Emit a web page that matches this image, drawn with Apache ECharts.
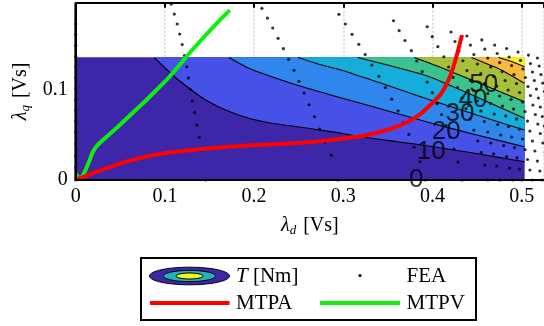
<!DOCTYPE html>
<html><head><meta charset="utf-8">
<script src="https://cdn.jsdelivr.net/npm/echarts/dist/echarts.min.js"></script>
<style>html,body{margin:0;padding:0;background:#fff}#c{width:544px;height:326px}</style>
</head><body><div id="c"></div>
<script>
// ---------- data (units: Vs, Nm) ----------
const xTickValues = [0, 0.1, 0.2, 0.3, 0.4, 0.5];
const yTickValues = [0, 0.1];
const xMax = 0.525;
const yMax = 0.1955;
const fillMaxD = 0.503;     // extent of the torque map
const fillMaxQ = 0.135;
const bandLevels = [0, 10, 20, 30, 40, 50, 60, 70];
const contour10 = [[0.0882,0.135],[0.1086,0.1158],[0.1271,0.1011],[0.1457,0.0882],[0.1680,0.0772],[0.1939,0.0680],[0.2198,0.0625],[0.2606,0.0570],[0.2862,0.0533],[0.3237,0.0471],[0.3607,0.0422],[0.3885,0.0386],[0.4386,0.0309],[0.503,0.0202]];
const contour20 = [[0.1717,0.135],[0.1939,0.1232],[0.2198,0.1139],[0.2551,0.1025],[0.2940,0.0915],[0.3385,0.0794],[0.3941,0.0639],[0.4497,0.0496],[0.503,0.0367]];
const contour30 = [[0.2495,0.135],[0.2717,0.1279],[0.2973,0.1213],[0.3418,0.1069],[0.3941,0.0893],[0.4497,0.0717],[0.503,0.0551]];
const contour40 = [[0.3162,0.135],[0.3496,0.1268],[0.3941,0.1147],[0.4497,0.0915],[0.503,0.0680]];
const contour50 = [[0.3796,0.135],[0.4108,0.1235],[0.4575,0.1047],[0.503,0.0863]];
const contour60 = [[0.4436,0.135],[0.4770,0.1213],[0.503,0.1066]];
const contour70 = [[0.4742,0.135],[0.4886,0.1306],[0.503,0.1249]];
const contourLabelText = ['0', '10', '20', '30', '40', '50'];
const contourLabelPos = [[0.3819,0.0],[0.3986,0.0309],[0.4153,0.0529],[0.4308,0.0728],[0.4453,0.0882],[0.4575,0.1047]];

const mtpa = [[0.0009,0.0006],[0.0103,0.0039],[0.0192,0.0077],[0.0382,0.0143],[0.0571,0.0204],[0.0771,0.0254],[0.0938,0.0287],[0.1305,0.0331],[0.1683,0.0364],[0.2050,0.0386],[0.2495,0.0408],[0.2862,0.0441],[0.3240,0.0491],[0.3529,0.0562],[0.3718,0.0639],[0.3852,0.0717],[0.3963,0.0816],[0.4085,0.0937],[0.4152,0.1047],[0.4208,0.1169],[0.4264,0.1345],[0.4308,0.1510],[0.4331,0.1599]];
const mtpv = [[0,0.0072],[0.0026,0.0033],[0.0053,0.0022],[0.0081,0.0050],[0.0115,0.0121],[0.0148,0.0198],[0.0192,0.0309],[0.0237,0.0375],[0.0293,0.0430],[0.0382,0.0507],[0.0471,0.0584],[0.0637,0.0739],[0.0793,0.0882],[0.0938,0.1025],[0.1049,0.1136],[0.1183,0.1290],[0.1305,0.1433],[0.1494,0.1637],[0.1627,0.1775],[0.1727,0.1874]];

const fea0 = [[0,0],[0,0.0136],[0,0.0265],[0,0.0397],[0,0.0526],[0,0.0651],[0,0.0772],[0,0.0890],[0,0.1011],[0,0.1128],[0,0.1246],[0,0.1364],[0,0.1483],[0,0.1602],[0,0.1720]];
const feaA = [[0.1071,0.1940],[0.1105,0.1830],[0.1138,0.1720],[0.1166,0.1610],[0.1194,0.1494],[0.1219,0.1373],[0.1244,0.1249],[0.1264,0.1125],[0.1285,0.1000],[0.1308,0.0871],[0.1333,0.0742],[0.1360,0.0606],[0.1386,0.0469],[0.1416,0.0331],[0.1457,0]];
const feaB = [[0.2087,0.1893],[0.2150,0.1786],[0.2209,0.1676],[0.2269,0.1562],[0.2328,0.1448],[0.2387,0.1331],[0.2447,0.1209],[0.2503,0.1088],[0.2562,0.0959],[0.2617,0.0830],[0.2676,0.0698],[0.2734,0.0562],[0.2795,0.0419],[0.2865,0.0272],[0.2940,0]];
const feaC = [[0.2951,0.1827],[0.3023,0.1720],[0.3098,0.1606],[0.3174,0.1496],[0.3246,0.1384],[0.3320,0.1268],[0.3399,0.1143],[0.3472,0.1020],[0.3543,0.0891],[0.3613,0.0763],[0.3674,0.0634],[0.3735,0.0502],[0.3793,0.0361],[0.3860,0.0204],[0.3919,0]];
const feaD = [[0.3563,0.1756],[0.3626,0.1648],[0.3691,0.1538],[0.3763,0.1426],[0.3824,0.1312],[0.3885,0.1196],[0.3941,0.1080],[0.3997,0.0963],[0.4052,0.0843],[0.4102,0.0722],[0.4152,0.0601],[0.4197,0.0474],[0.4241,0.0342],[0.4286,0.0198],[0.4330,0]];
const feaE = [[0.3941,0.1690],[0.3997,0.1580],[0.4060,0.1470],[0.4127,0.1359],[0.4180,0.1246],[0.4230,0.1132],[0.4280,0.1018],[0.4330,0.0904],[0.4375,0.0788],[0.4419,0.0673],[0.4464,0.0551],[0.4508,0.0430],[0.4547,0.0303],[0.4586,0.0165],[0.4620,0]];
const feaF = [[0.4208,0.1632],[0.4252,0.1527],[0.4297,0.1422],[0.4341,0.1315],[0.4386,0.1207],[0.4425,0.1097],[0.4464,0.0987],[0.4503,0.0874],[0.4542,0.0761],[0.4581,0.0645],[0.4620,0.0529],[0.4653,0.0408],[0.4686,0.0287],[0.4720,0.0154],[0.4753,0]];
const feaG = [[0.4386,0.1588],[0.4425,0.1488],[0.4464,0.1384],[0.4503,0.1279],[0.4542,0.1174],[0.4581,0.1064],[0.4620,0.0954],[0.4653,0.0843],[0.4692,0.0728],[0.4731,0.0612],[0.4764,0.0496],[0.4798,0.0380],[0.4831,0.0259],[0.4864,0.0132],[0.4898,0]];
const feaH = [[0.4553,0.1544],[0.4586,0.1444],[0.4620,0.1345],[0.4653,0.1246],[0.4686,0.1141],[0.4720,0.1036],[0.4753,0.0926],[0.4786,0.0816],[0.4820,0.0706],[0.4853,0.0590],[0.4887,0.0474],[0.4920,0.0358],[0.4948,0.0243],[0.4976,0.0121],[0.5003,0]];
const feaI = [[0.4697,0.1488],[0.4725,0.1395],[0.4753,0.1295],[0.4781,0.1196],[0.4814,0.1097],[0.4848,0.0992],[0.4881,0.0888],[0.4909,0.0783],[0.4942,0.0673],[0.4976,0.0562],[0.5009,0.0452],[0.5037,0.0336],[0.5065,0.0226],[0.5092,0.0110],[0.5120,0]];
const feaJ = [[0.4831,0.1450],[0.4859,0.1356],[0.4887,0.1262],[0.4914,0.1163],[0.4942,0.1064],[0.4976,0.0965],[0.5009,0.0860],[0.5037,0.0755],[0.5065,0.0650],[0.5092,0.0540],[0.5120,0.0430],[0.5148,0.0320],[0.5176,0.0209],[0.5204,0.0099],[0.5231,0]];
const feaK = [[0.4959,0.1411],[0.4987,0.1318],[0.5014,0.1224],[0.5042,0.1130],[0.5070,0.1031],[0.5098,0.0932],[0.5126,0.0827],[0.5153,0.0722],[0.5181,0.0617],[0.5209,0.0513],[0.5237,0.0408],[0.5265,0.0303],[0.5293,0.0198],[0.5320,0.0099],[0.5348,0]];
const feaL = [[0.5076,0.1378],[0.5098,0.1284],[0.5120,0.1191],[0.5142,0.1097],[0.5165,0.1003],[0.5187,0.0904],[0.5209,0.0805],[0.5231,0.0700],[0.5254,0.0595],[0.5276,0.0491],[0.5298,0.0386],[0.5320,0.0281],[0.5343,0.0182],[0.5365,0.0088],[0.5387,0]];
const feaM = [[0.5176,0.1345],[0.5196,0.1257],[0.5216,0.1163],[0.5236,0.1069],[0.5256,0.0976],[0.5276,0.0877],[0.5296,0.0777],[0.5316,0.0673],[0.5336,0.0568],[0.5356,0.0463],[0.5376,0.0358],[0.5396,0.0259],[0.5416,0.0160],[0.5436,0.0077],[0.5456,0]];
// axes frame (extent corners)
const frameBottom = [[0, 0], [xMax, 0]];
const frameLeft = [[0, 0], [0, yMax]];

// ---------- styling ----------
const bandColors = ['#3e26a8','#4651e8','#2f87ee','#16addb','#3ac38e','#a8bf3a','#fbb93b','#f5f41b'];
const contours = [contour10, contour20, contour30, contour40, contour50, contour60, contour70];
const feaAll = [].concat(fea0, feaA, feaB, feaC, feaD, feaE, feaF, feaG, feaH, feaI, feaJ, feaK, feaL, feaM);
const SERIF = 'Liberation Serif';
const SANS = 'Liberation Sans';

const chart = echarts.init(document.getElementById('c'), null, {renderer: 'canvas'});

const series = [];
series.push({
  type: 'custom', coordinateSystem: 'cartesian2d', xAxisIndex: 0, yAxisIndex: 0,
  silent: true, z: 2, clip: true,
  data: bandLevels.map((l, i) => [0, 0, i]),
  renderItem: function (params, api) {
    const i = api.value(2);
    let pts;
    if (i === 0) pts = [[0, 0], [fillMaxD, 0], [fillMaxD, fillMaxQ], [0, fillMaxQ]];
    else pts = contours[i - 1].concat([[fillMaxD, fillMaxQ]]);
    return {type: 'polygon', shape: {points: pts.map(p => api.coord(p))},
      style: {fill: bandColors[i], stroke: bandColors[i], lineWidth: 0.5}};
  }
});
contours.forEach(c => series.push({
  type: 'line', data: c, xAxisIndex: 0, yAxisIndex: 0, showSymbol: false, silent: true, z: 3,
  lineStyle: {color: '#000', width: 1.1}, smooth: 0.2
}));
series.push({
  type: 'scatter', data: feaAll, xAxisIndex: 0, yAxisIndex: 0, symbol: 'circle', symbolSize: 3.2,
  itemStyle: {color: '#000'}, silent: true, z: 4, clip: false
});
series.push({
  type: 'line', data: mtpv, xAxisIndex: 0, yAxisIndex: 0, showSymbol: false, silent: true, z: 5,
  lineStyle: {color: '#10ee10', width: 4}, smooth: 0.12
});
series.push({
  type: 'line', data: mtpa, xAxisIndex: 0, yAxisIndex: 0, showSymbol: false, silent: true, z: 6,
  lineStyle: {color: '#ff0000', width: 4}, smooth: 0.3
});
[frameBottom, frameLeft].forEach((f, k) => series.push({
  type: 'line', data: f, xAxisIndex: 0, yAxisIndex: 0, showSymbol: false, silent: true, z: 8,
  clip: false, lineStyle: {color: '#000', width: k === 0 ? 2.2 : 2.6}
}));
series.push({
  type: 'scatter', data: contourLabelPos, xAxisIndex: 0, yAxisIndex: 0, symbolSize: 0, silent: true, z: 9,
  clip: false,
  label: {show: true, position: 'inside', formatter: p => contourLabelText[p.dataIndex],
    fontFamily: SANS, fontSize: 26, color: '#000'}
});

const axisLabelStyle = {fontFamily: SERIF, fontSize: 20, color: '#000'};

const legendGraphics = [
  {type: 'rect', z: 100, shape: {x: 141, y: 258, width: 335, height: 62},
    style: {fill: '#fff', stroke: '#000', lineWidth: 2}},
  {type: 'ellipse', z: 101, shape: {cx: 189.5, cy: 276, rx: 40, ry: 8.8},
    style: {fill: bandColors[0], stroke: '#000', lineWidth: 1}},
  {type: 'ellipse', z: 102, shape: {cx: 189.5, cy: 276, rx: 26, ry: 5.6},
    style: {fill: '#1fb3bc', stroke: '#000', lineWidth: 1}},
  {type: 'ellipse', z: 103, shape: {cx: 189.5, cy: 276, rx: 13.5, ry: 3},
    style: {fill: '#f5f41b', stroke: '#000', lineWidth: 1}},
  {type: 'text', z: 101, x: 236, y: 276,
    style: {text: '{i|T} [Nm]', font: '21px "Liberation Serif"', fill: '#000', verticalAlign: 'middle',
      rich: {i: {fontStyle: 'italic', fontFamily: SERIF, fontSize: 21}}}},
  {type: 'circle', z: 101, shape: {cx: 360, cy: 275.5, r: 1.6}, style: {fill: '#000'}},
  {type: 'text', z: 101, x: 406.5, y: 276,
    style: {text: 'FEA', font: '21px "Liberation Serif"', fill: '#000', verticalAlign: 'middle'}},
  {type: 'line', z: 101, shape: {x1: 150, y1: 303, x2: 229.5, y2: 303},
    style: {stroke: '#ff0000', lineWidth: 4}},
  {type: 'text', z: 101, x: 236, y: 303,
    style: {text: 'MTPA', font: '21px "Liberation Serif"', fill: '#000', verticalAlign: 'middle'}},
  {type: 'line', z: 101, shape: {x1: 320, y1: 303, x2: 400, y2: 303},
    style: {stroke: '#10ee10', lineWidth: 4}},
  {type: 'text', z: 101, x: 406.5, y: 303,
    style: {text: 'MTPV', font: '21px "Liberation Serif"', fill: '#000', verticalAlign: 'middle'}}
];

const option = {
  animation: false,
  grid: {left: 75.7, right: -3.7, top: 2.7, bottom: 146, containLabel: false},
  xAxis: [
    {type: 'value', min: 0, max: xMax, interval: 0.1, position: 'bottom', z: 0,
      axisLine: {show: false}, axisTick: {show: false}, axisLabel: {show: false},
      splitLine: {show: true, lineStyle: {color: '#cfcfcf', type: [2, 2], width: 1.5}}},
    {type: 'value', min: 0, max: xMax, interval: 0.1, position: 'bottom', z: 10,
      axisLine: {show: false}, axisTick: {show: false}, splitLine: {show: false},
      axisLabel: Object.assign({margin: 7, showMaxLabel: false,
        formatter: v => (xTickValues.indexOf(Math.round(v * 10) / 10) >= 0 ? String(Math.round(v * 10) / 10) : '')}, axisLabelStyle),
      name: '{i|λ}{s|d} [Vs]', nameLocation: 'middle', nameGap: 35,
      nameTextStyle: {fontFamily: SERIF, fontSize: 20, color: '#000',
        rich: {i: {fontFamily: SERIF, fontSize: 20, fontStyle: 'italic', color: '#000'},
               s: {fontFamily: SERIF, fontSize: 13, fontStyle: 'italic', color: '#000', padding: [9, 2, 0, 0]}}}},
    {type: 'value', min: 0, max: xMax, interval: 0.1, position: 'top', z: 10,
      axisLine: {show: true, onZero: false, lineStyle: {color: '#000', width: 2}},
      axisTick: {show: true, inside: true, length: 5, lineStyle: {color: '#000', width: 2}},
      axisLabel: {show: false}, splitLine: {show: false}}
  ],
  yAxis: [
    {type: 'value', min: 0, max: yMax, interval: 0.1, position: 'left', z: 10,
      axisLine: {show: false}, axisTick: {show: false}, splitLine: {show: false},
      axisLabel: Object.assign({margin: 8, showMaxLabel: false,
        formatter: v => (yTickValues.indexOf(Math.round(v * 10) / 10) >= 0 ? String(Math.round(v * 10) / 10) : '')}, axisLabelStyle),
      name: '{i|λ}{s|q} [Vs]', nameLocation: 'middle', nameGap: 44,
      nameTextStyle: {fontFamily: SERIF, fontSize: 20, color: '#000',
        rich: {i: {fontFamily: SERIF, fontSize: 20, fontStyle: 'italic', color: '#000'},
               s: {fontFamily: SERIF, fontSize: 13, fontStyle: 'italic', color: '#000', padding: [9, 2, 0, 0]}}}}
  ],
  series: series,
  graphic: legendGraphics
};
chart.setOption(option);
</script>
</body></html>
